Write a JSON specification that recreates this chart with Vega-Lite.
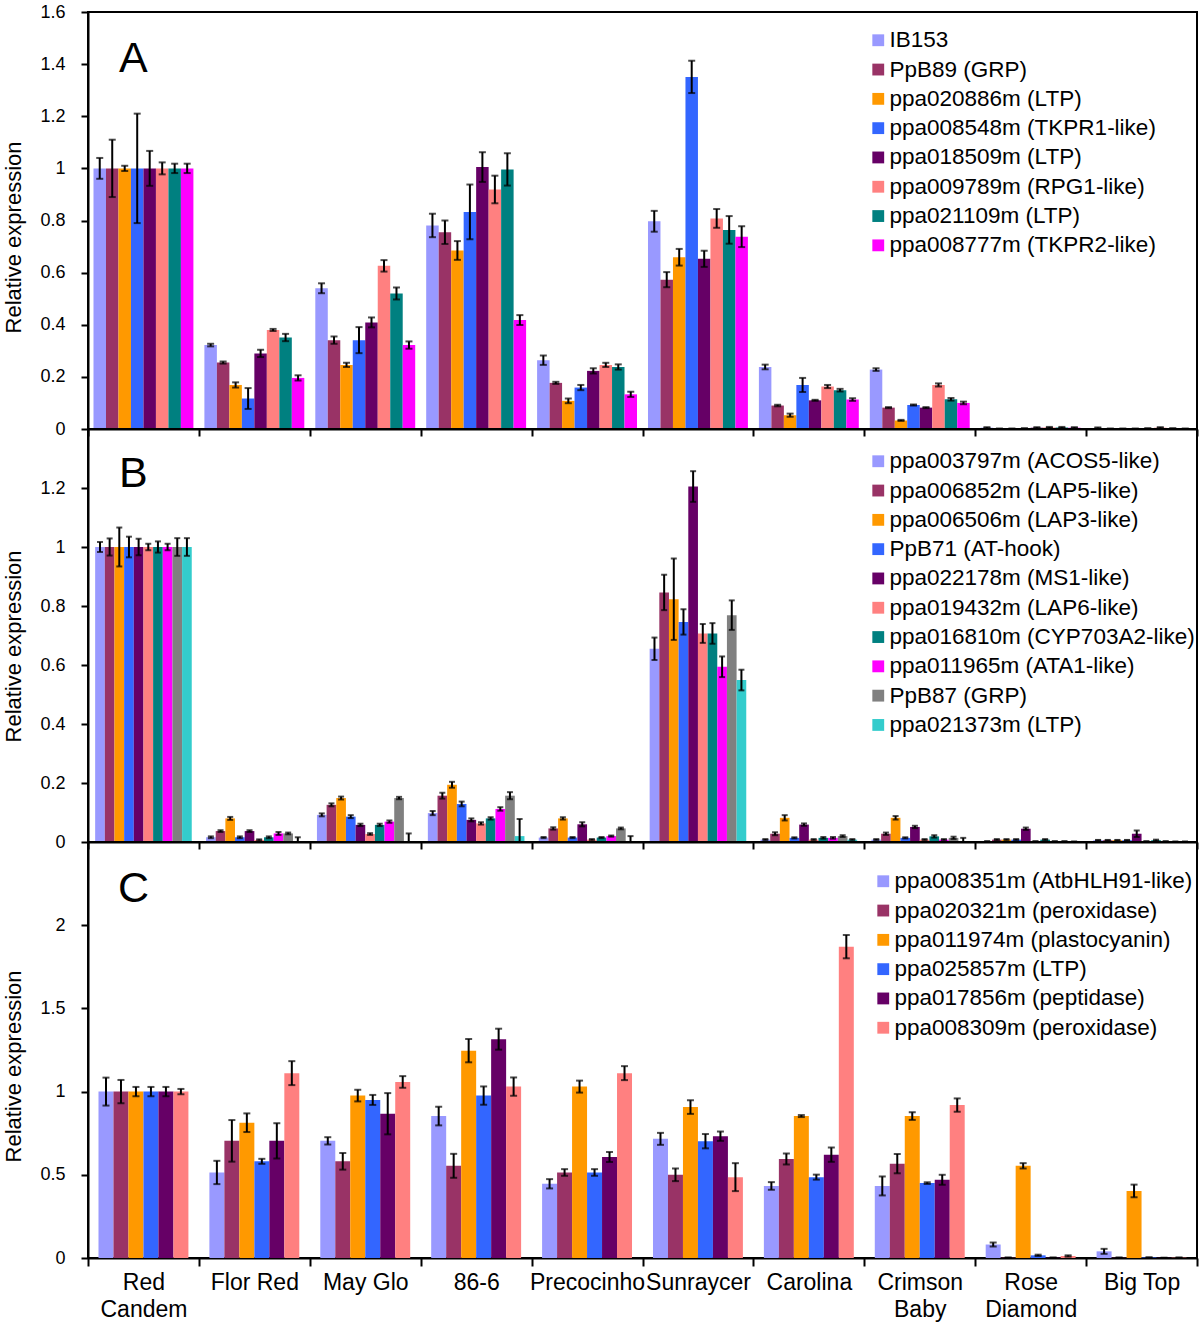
{
"$schema": "https://vega.github.io/schema/vega-lite/v6.json",
"background": "white",
"padding": {"left": 1, "top": 2, "right": 3, "bottom": 0},
"spacing": 0,
"bounds": "flush",
"config": {
  "font": "Liberation Sans",
  "view": {"stroke": "black", "strokeWidth": 2},
  "axis": {"domainColor": "black", "domainWidth": 2, "tickColor": "black", "tickWidth": 2, "labelColor": "black", "titleColor": "black", "grid": false, "labelFont": "Liberation Sans", "titleFont": "Liberation Sans", "titleFontWeight": "normal"},
  "axisY": {"labelFontSize": 18, "tickSize": 7, "labelPadding": 16, "titleFontSize": 22, "titlePadding": 14, "format": "~g"},
  "legend": {"orient": "none", "title": null, "labelFontSize": 22.5, "labelFont": "Liberation Sans", "labelColor": "black", "symbolType": "square", "symbolSize": 140, "symbolStrokeWidth": 0, "rowPadding": 6.3, "labelOffset": 0, "labelLimit": 600, "padding": 0}
},
"resolve": {"scale": {"color": "independent", "y": "independent", "x": "independent", "xOffset": "independent"}},
"datasets": {
"a": [
{"c":"Red Candem","s":"IB153","v":1,"e":0.04},
{"c":"Red Candem","s":"PpB89 (GRP)","v":1,"e":0.11},
{"c":"Red Candem","s":"ppa020886m (LTP)","v":1,"e":0.01},
{"c":"Red Candem","s":"ppa008548m (TKPR1-like)","v":1,"e":0.21},
{"c":"Red Candem","s":"ppa018509m (LTP)","v":1,"e":0.067},
{"c":"Red Candem","s":"ppa009789m (RPG1-like)","v":1,"e":0.023},
{"c":"Red Candem","s":"ppa021109m (LTP)","v":1,"e":0.018},
{"c":"Red Candem","s":"ppa008777m (TKPR2-like)","v":1,"e":0.018},
{"c":"Flor Red","s":"IB153","v":0.322,"e":0.005},
{"c":"Flor Red","s":"PpB89 (GRP)","v":0.255,"e":0.004},
{"c":"Flor Red","s":"ppa020886m (LTP)","v":0.169,"e":0.01},
{"c":"Flor Red","s":"ppa008548m (TKPR1-like)","v":0.117,"e":0.04},
{"c":"Flor Red","s":"ppa018509m (LTP)","v":0.29,"e":0.014},
{"c":"Flor Red","s":"ppa009789m (RPG1-like)","v":0.38,"e":0.004},
{"c":"Flor Red","s":"ppa021109m (LTP)","v":0.351,"e":0.014},
{"c":"Flor Red","s":"ppa008777m (TKPR2-like)","v":0.196,"e":0.01},
{"c":"May Glo","s":"IB153","v":0.54,"e":0.019},
{"c":"May Glo","s":"PpB89 (GRP)","v":0.341,"e":0.014},
{"c":"May Glo","s":"ppa020886m (LTP)","v":0.246,"e":0.008},
{"c":"May Glo","s":"ppa008548m (TKPR1-like)","v":0.341,"e":0.05},
{"c":"May Glo","s":"ppa018509m (LTP)","v":0.409,"e":0.019},
{"c":"May Glo","s":"ppa009789m (RPG1-like)","v":0.626,"e":0.022},
{"c":"May Glo","s":"ppa021109m (LTP)","v":0.52,"e":0.023},
{"c":"May Glo","s":"ppa008777m (TKPR2-like)","v":0.322,"e":0.014},
{"c":"86-6","s":"IB153","v":0.781,"e":0.045},
{"c":"86-6","s":"PpB89 (GRP)","v":0.755,"e":0.045},
{"c":"86-6","s":"ppa020886m (LTP)","v":0.685,"e":0.036},
{"c":"86-6","s":"ppa008548m (TKPR1-like)","v":0.833,"e":0.105},
{"c":"86-6","s":"ppa018509m (LTP)","v":1.005,"e":0.057},
{"c":"86-6","s":"ppa009789m (RPG1-like)","v":0.919,"e":0.053},
{"c":"86-6","s":"ppa021109m (LTP)","v":0.996,"e":0.062},
{"c":"86-6","s":"ppa008777m (TKPR2-like)","v":0.418,"e":0.019},
{"c":"Precocinho","s":"IB153","v":0.264,"e":0.018},
{"c":"Precocinho","s":"PpB89 (GRP)","v":0.177,"e":0.004},
{"c":"Precocinho","s":"ppa020886m (LTP)","v":0.108,"e":0.009},
{"c":"Precocinho","s":"ppa008548m (TKPR1-like)","v":0.159,"e":0.01},
{"c":"Precocinho","s":"ppa018509m (LTP)","v":0.223,"e":0.01},
{"c":"Precocinho","s":"ppa009789m (RPG1-like)","v":0.246,"e":0.008},
{"c":"Precocinho","s":"ppa021109m (LTP)","v":0.238,"e":0.01},
{"c":"Precocinho","s":"ppa008777m (TKPR2-like)","v":0.133,"e":0.01},
{"c":"Sunraycer","s":"IB153","v":0.797,"e":0.04},
{"c":"Sunraycer","s":"PpB89 (GRP)","v":0.573,"e":0.029},
{"c":"Sunraycer","s":"ppa020886m (LTP)","v":0.659,"e":0.032},
{"c":"Sunraycer","s":"ppa008548m (TKPR1-like)","v":1.351,"e":0.062},
{"c":"Sunraycer","s":"ppa018509m (LTP)","v":0.653,"e":0.031},
{"c":"Sunraycer","s":"ppa009789m (RPG1-like)","v":0.808,"e":0.036},
{"c":"Sunraycer","s":"ppa021109m (LTP)","v":0.764,"e":0.053},
{"c":"Sunraycer","s":"ppa008777m (TKPR2-like)","v":0.738,"e":0.04},
{"c":"Carolina","s":"IB153","v":0.238,"e":0.009},
{"c":"Carolina","s":"PpB89 (GRP)","v":0.09,"e":0.003},
{"c":"Carolina","s":"ppa020886m (LTP)","v":0.053,"e":0.006},
{"c":"Carolina","s":"ppa008548m (TKPR1-like)","v":0.169,"e":0.027},
{"c":"Carolina","s":"ppa018509m (LTP)","v":0.11,"e":0.002},
{"c":"Carolina","s":"ppa009789m (RPG1-like)","v":0.163,"e":0.006},
{"c":"Carolina","s":"ppa021109m (LTP)","v":0.149,"e":0.005},
{"c":"Carolina","s":"ppa008777m (TKPR2-like)","v":0.113,"e":0.005},
{"c":"Crimson Baby","s":"IB153","v":0.228,"e":0.005},
{"c":"Crimson Baby","s":"PpB89 (GRP)","v":0.082,"e":0.002},
{"c":"Crimson Baby","s":"ppa020886m (LTP)","v":0.033,"e":0.002},
{"c":"Crimson Baby","s":"ppa008548m (TKPR1-like)","v":0.092,"e":0.002},
{"c":"Crimson Baby","s":"ppa018509m (LTP)","v":0.082,"e":0.002},
{"c":"Crimson Baby","s":"ppa009789m (RPG1-like)","v":0.169,"e":0.006},
{"c":"Crimson Baby","s":"ppa021109m (LTP)","v":0.114,"e":0.005},
{"c":"Crimson Baby","s":"ppa008777m (TKPR2-like)","v":0.1,"e":0.005},
{"c":"Rose Diamond","s":"IB153","v":0.005,"e":0.002},
{"c":"Rose Diamond","s":"PpB89 (GRP)","v":0.001,"e":0.001},
{"c":"Rose Diamond","s":"ppa020886m (LTP)","v":0.001,"e":0.001},
{"c":"Rose Diamond","s":"ppa008548m (TKPR1-like)","v":0.002,"e":0.001},
{"c":"Rose Diamond","s":"ppa018509m (LTP)","v":0.005,"e":0.002},
{"c":"Rose Diamond","s":"ppa009789m (RPG1-like)","v":0.006,"e":0.002},
{"c":"Rose Diamond","s":"ppa021109m (LTP)","v":0.006,"e":0.002},
{"c":"Rose Diamond","s":"ppa008777m (TKPR2-like)","v":0.005,"e":0.002},
{"c":"Big Top","s":"IB153","v":0.004,"e":0.002},
{"c":"Big Top","s":"PpB89 (GRP)","v":0.001,"e":0.001},
{"c":"Big Top","s":"ppa020886m (LTP)","v":0.001,"e":0.001},
{"c":"Big Top","s":"ppa008548m (TKPR1-like)","v":0.001,"e":0.001},
{"c":"Big Top","s":"ppa018509m (LTP)","v":0.002,"e":0.001},
{"c":"Big Top","s":"ppa009789m (RPG1-like)","v":0.005,"e":0.002},
{"c":"Big Top","s":"ppa021109m (LTP)","v":0.002,"e":0.001},
{"c":"Big Top","s":"ppa008777m (TKPR2-like)","v":0.001,"e":0.001}
],
"b": [
{"c":"Red Candem","s":"ppa003797m (ACOS5-like)","v":1,"e":0.017},
{"c":"Red Candem","s":"ppa006852m (LAP5-like)","v":1,"e":0.029},
{"c":"Red Candem","s":"ppa006506m (LAP3-like)","v":1,"e":0.066},
{"c":"Red Candem","s":"PpB71 (AT-hook)","v":1,"e":0.035},
{"c":"Red Candem","s":"ppa022178m (MS1-like)","v":1,"e":0.028},
{"c":"Red Candem","s":"ppa019432m (LAP6-like)","v":1,"e":0.011},
{"c":"Red Candem","s":"ppa016810m (CYP703A2-like)","v":1,"e":0.019},
{"c":"Red Candem","s":"ppa011965m (ATA1-like)","v":1,"e":0.011},
{"c":"Red Candem","s":"PpB87 (GRP)","v":1,"e":0.03},
{"c":"Red Candem","s":"ppa021373m (LTP)","v":1,"e":0.03},
{"c":"Flor Red","s":"ppa003797m (ACOS5-like)","v":0.016,"e":0.003},
{"c":"Flor Red","s":"ppa006852m (LAP5-like)","v":0.037,"e":0.003},
{"c":"Flor Red","s":"ppa006506m (LAP3-like)","v":0.08,"e":0.005},
{"c":"Flor Red","s":"PpB71 (AT-hook)","v":0.016,"e":0.003},
{"c":"Flor Red","s":"ppa022178m (MS1-like)","v":0.037,"e":0.003},
{"c":"Flor Red","s":"ppa019432m (LAP6-like)","v":0.007,"e":0.002},
{"c":"Flor Red","s":"ppa016810m (CYP703A2-like)","v":0.016,"e":0.003},
{"c":"Flor Red","s":"ppa011965m (ATA1-like)","v":0.029,"e":0.005},
{"c":"Flor Red","s":"PpB87 (GRP)","v":0.029,"e":0.003},
{"c":"Flor Red","s":"ppa021373m (LTP)","v":0.003,"e":0.013},
{"c":"May Glo","s":"ppa003797m (ACOS5-like)","v":0.092,"e":0.005},
{"c":"May Glo","s":"ppa006852m (LAP5-like)","v":0.126,"e":0.005},
{"c":"May Glo","s":"ppa006506m (LAP3-like)","v":0.149,"e":0.005},
{"c":"May Glo","s":"PpB71 (AT-hook)","v":0.086,"e":0.005},
{"c":"May Glo","s":"ppa022178m (MS1-like)","v":0.058,"e":0.004},
{"c":"May Glo","s":"ppa019432m (LAP6-like)","v":0.027,"e":0.003},
{"c":"May Glo","s":"ppa016810m (CYP703A2-like)","v":0.058,"e":0.004},
{"c":"May Glo","s":"ppa011965m (ATA1-like)","v":0.069,"e":0.004},
{"c":"May Glo","s":"PpB87 (GRP)","v":0.149,"e":0.004},
{"c":"May Glo","s":"ppa021373m (LTP)","v":0.003,"e":0.026},
{"c":"86-6","s":"ppa003797m (ACOS5-like)","v":0.098,"e":0.007},
{"c":"86-6","s":"ppa006852m (LAP5-like)","v":0.157,"e":0.01},
{"c":"86-6","s":"ppa006506m (LAP3-like)","v":0.194,"e":0.01},
{"c":"86-6","s":"PpB71 (AT-hook)","v":0.129,"e":0.008},
{"c":"86-6","s":"ppa022178m (MS1-like)","v":0.075,"e":0.005},
{"c":"86-6","s":"ppa019432m (LAP6-like)","v":0.063,"e":0.004},
{"c":"86-6","s":"ppa016810m (CYP703A2-like)","v":0.08,"e":0.004},
{"c":"86-6","s":"ppa011965m (ATA1-like)","v":0.112,"e":0.006},
{"c":"86-6","s":"PpB87 (GRP)","v":0.157,"e":0.012},
{"c":"86-6","s":"ppa021373m (LTP)","v":0.02,"e":0.058},
{"c":"Precocinho","s":"ppa003797m (ACOS5-like)","v":0.015,"e":0.002},
{"c":"Precocinho","s":"ppa006852m (LAP5-like)","v":0.046,"e":0.004},
{"c":"Precocinho","s":"ppa006506m (LAP3-like)","v":0.08,"e":0.004},
{"c":"Precocinho","s":"PpB71 (AT-hook)","v":0.015,"e":0.002},
{"c":"Precocinho","s":"ppa022178m (MS1-like)","v":0.06,"e":0.007},
{"c":"Precocinho","s":"ppa019432m (LAP6-like)","v":0.008,"e":0.002},
{"c":"Precocinho","s":"ppa016810m (CYP703A2-like)","v":0.015,"e":0.002},
{"c":"Precocinho","s":"ppa011965m (ATA1-like)","v":0.02,"e":0.002},
{"c":"Precocinho","s":"PpB87 (GRP)","v":0.046,"e":0.003},
{"c":"Precocinho","s":"ppa021373m (LTP)","v":0.003,"e":0.017},
{"c":"Sunraycer","s":"ppa003797m (ACOS5-like)","v":0.655,"e":0.038},
{"c":"Sunraycer","s":"ppa006852m (LAP5-like)","v":0.846,"e":0.06},
{"c":"Sunraycer","s":"ppa006506m (LAP3-like)","v":0.823,"e":0.138},
{"c":"Sunraycer","s":"PpB71 (AT-hook)","v":0.746,"e":0.043},
{"c":"Sunraycer","s":"ppa022178m (MS1-like)","v":1.205,"e":0.052},
{"c":"Sunraycer","s":"ppa019432m (LAP6-like)","v":0.707,"e":0.032},
{"c":"Sunraycer","s":"ppa016810m (CYP703A2-like)","v":0.707,"e":0.035},
{"c":"Sunraycer","s":"ppa011965m (ATA1-like)","v":0.594,"e":0.035},
{"c":"Sunraycer","s":"PpB87 (GRP)","v":0.769,"e":0.05},
{"c":"Sunraycer","s":"ppa021373m (LTP)","v":0.549,"e":0.035},
{"c":"Carolina","s":"ppa003797m (ACOS5-like)","v":0.008,"e":0.002},
{"c":"Carolina","s":"ppa006852m (LAP5-like)","v":0.028,"e":0.005},
{"c":"Carolina","s":"ppa006506m (LAP3-like)","v":0.082,"e":0.009},
{"c":"Carolina","s":"PpB71 (AT-hook)","v":0.014,"e":0.002},
{"c":"Carolina","s":"ppa022178m (MS1-like)","v":0.059,"e":0.004},
{"c":"Carolina","s":"ppa019432m (LAP6-like)","v":0.008,"e":0.002},
{"c":"Carolina","s":"ppa016810m (CYP703A2-like)","v":0.014,"e":0.003},
{"c":"Carolina","s":"ppa011965m (ATA1-like)","v":0.014,"e":0.003},
{"c":"Carolina","s":"PpB87 (GRP)","v":0.02,"e":0.003},
{"c":"Carolina","s":"ppa021373m (LTP)","v":0.008,"e":0.002},
{"c":"Crimson Baby","s":"ppa003797m (ACOS5-like)","v":0.008,"e":0.002},
{"c":"Crimson Baby","s":"ppa006852m (LAP5-like)","v":0.028,"e":0.004},
{"c":"Crimson Baby","s":"ppa006506m (LAP3-like)","v":0.082,"e":0.006},
{"c":"Crimson Baby","s":"PpB71 (AT-hook)","v":0.014,"e":0.002},
{"c":"Crimson Baby","s":"ppa022178m (MS1-like)","v":0.051,"e":0.004},
{"c":"Crimson Baby","s":"ppa019432m (LAP6-like)","v":0.008,"e":0.002},
{"c":"Crimson Baby","s":"ppa016810m (CYP703A2-like)","v":0.019,"e":0.004},
{"c":"Crimson Baby","s":"ppa011965m (ATA1-like)","v":0.008,"e":0.002},
{"c":"Crimson Baby","s":"PpB87 (GRP)","v":0.014,"e":0.004},
{"c":"Crimson Baby","s":"ppa021373m (LTP)","v":0.002,"e":0.012},
{"c":"Rose Diamond","s":"ppa003797m (ACOS5-like)","v":0.002,"e":0.001},
{"c":"Rose Diamond","s":"ppa006852m (LAP5-like)","v":0.008,"e":0.002},
{"c":"Rose Diamond","s":"ppa006506m (LAP3-like)","v":0.008,"e":0.002},
{"c":"Rose Diamond","s":"PpB71 (AT-hook)","v":0.008,"e":0.002},
{"c":"Rose Diamond","s":"ppa022178m (MS1-like)","v":0.045,"e":0.004},
{"c":"Rose Diamond","s":"ppa019432m (LAP6-like)","v":0.002,"e":0.001},
{"c":"Rose Diamond","s":"ppa016810m (CYP703A2-like)","v":0.008,"e":0.002},
{"c":"Rose Diamond","s":"ppa011965m (ATA1-like)","v":0.002,"e":0.001},
{"c":"Rose Diamond","s":"PpB87 (GRP)","v":0.002,"e":0.001},
{"c":"Rose Diamond","s":"ppa021373m (LTP)","v":0.001,"e":0.001},
{"c":"Big Top","s":"ppa003797m (ACOS5-like)","v":0.006,"e":0.001},
{"c":"Big Top","s":"ppa006852m (LAP5-like)","v":0.006,"e":0.001},
{"c":"Big Top","s":"ppa006506m (LAP3-like)","v":0.006,"e":0.001},
{"c":"Big Top","s":"PpB71 (AT-hook)","v":0.006,"e":0.001},
{"c":"Big Top","s":"ppa022178m (MS1-like)","v":0.028,"e":0.011},
{"c":"Big Top","s":"ppa019432m (LAP6-like)","v":0.002,"e":0.001},
{"c":"Big Top","s":"ppa016810m (CYP703A2-like)","v":0.006,"e":0.002},
{"c":"Big Top","s":"ppa011965m (ATA1-like)","v":0.002,"e":0.001},
{"c":"Big Top","s":"PpB87 (GRP)","v":0.001,"e":0.001},
{"c":"Big Top","s":"ppa021373m (LTP)","v":0.001,"e":0.001}
],
"c": [
{"c":"Red Candem","s":"ppa008351m (AtbHLH91-like)","v":1,"e":0.084},
{"c":"Red Candem","s":"ppa020321m (peroxidase)","v":1,"e":0.07},
{"c":"Red Candem","s":"ppa011974m (plastocyanin)","v":1,"e":0.028},
{"c":"Red Candem","s":"ppa025857m (LTP)","v":1,"e":0.028},
{"c":"Red Candem","s":"ppa017856m (peptidase)","v":1,"e":0.028},
{"c":"Red Candem","s":"ppa008309m (peroxidase)","v":1,"e":0.016},
{"c":"Flor Red","s":"ppa008351m (AtbHLH91-like)","v":0.514,"e":0.07},
{"c":"Flor Red","s":"ppa020321m (peroxidase)","v":0.704,"e":0.125},
{"c":"Flor Red","s":"ppa011974m (plastocyanin)","v":0.813,"e":0.056},
{"c":"Flor Red","s":"ppa025857m (LTP)","v":0.581,"e":0.015},
{"c":"Flor Red","s":"ppa017856m (peptidase)","v":0.704,"e":0.106},
{"c":"Flor Red","s":"ppa008309m (peroxidase)","v":1.111,"e":0.072},
{"c":"May Glo","s":"ppa008351m (AtbHLH91-like)","v":0.704,"e":0.022},
{"c":"May Glo","s":"ppa020321m (peroxidase)","v":0.581,"e":0.05},
{"c":"May Glo","s":"ppa011974m (plastocyanin)","v":0.976,"e":0.035},
{"c":"May Glo","s":"ppa025857m (LTP)","v":0.95,"e":0.03},
{"c":"May Glo","s":"ppa017856m (peptidase)","v":0.867,"e":0.124},
{"c":"May Glo","s":"ppa008309m (peroxidase)","v":1.058,"e":0.035},
{"c":"86-6","s":"ppa008351m (AtbHLH91-like)","v":0.853,"e":0.056},
{"c":"86-6","s":"ppa020321m (peroxidase)","v":0.554,"e":0.072},
{"c":"86-6","s":"ppa011974m (plastocyanin)","v":1.246,"e":0.07},
{"c":"86-6","s":"ppa025857m (LTP)","v":0.976,"e":0.055},
{"c":"86-6","s":"ppa017856m (peptidase)","v":1.315,"e":0.063},
{"c":"86-6","s":"ppa008309m (peroxidase)","v":1.03,"e":0.055},
{"c":"Precocinho","s":"ppa008351m (AtbHLH91-like)","v":0.446,"e":0.028},
{"c":"Precocinho","s":"ppa020321m (peroxidase)","v":0.514,"e":0.02},
{"c":"Precocinho","s":"ppa011974m (plastocyanin)","v":1.03,"e":0.036},
{"c":"Precocinho","s":"ppa025857m (LTP)","v":0.514,"e":0.02},
{"c":"Precocinho","s":"ppa017856m (peptidase)","v":0.607,"e":0.03},
{"c":"Precocinho","s":"ppa008309m (peroxidase)","v":1.111,"e":0.042},
{"c":"Sunraycer","s":"ppa008351m (AtbHLH91-like)","v":0.716,"e":0.036},
{"c":"Sunraycer","s":"ppa020321m (peroxidase)","v":0.5,"e":0.038},
{"c":"Sunraycer","s":"ppa011974m (plastocyanin)","v":0.907,"e":0.041},
{"c":"Sunraycer","s":"ppa025857m (LTP)","v":0.702,"e":0.043},
{"c":"Sunraycer","s":"ppa017856m (peptidase)","v":0.732,"e":0.028},
{"c":"Sunraycer","s":"ppa008309m (peroxidase)","v":0.486,"e":0.084},
{"c":"Carolina","s":"ppa008351m (AtbHLH91-like)","v":0.433,"e":0.023},
{"c":"Carolina","s":"ppa020321m (peroxidase)","v":0.595,"e":0.033},
{"c":"Carolina","s":"ppa011974m (plastocyanin)","v":0.853,"e":0.006},
{"c":"Carolina","s":"ppa025857m (LTP)","v":0.486,"e":0.015},
{"c":"Carolina","s":"ppa017856m (peptidase)","v":0.621,"e":0.043},
{"c":"Carolina","s":"ppa008309m (peroxidase)","v":1.871,"e":0.07},
{"c":"Crimson Baby","s":"ppa008351m (AtbHLH91-like)","v":0.433,"e":0.057},
{"c":"Crimson Baby","s":"ppa020321m (peroxidase)","v":0.567,"e":0.058},
{"c":"Crimson Baby","s":"ppa011974m (plastocyanin)","v":0.853,"e":0.023},
{"c":"Crimson Baby","s":"ppa025857m (LTP)","v":0.45,"e":0.005},
{"c":"Crimson Baby","s":"ppa017856m (peptidase)","v":0.47,"e":0.03},
{"c":"Crimson Baby","s":"ppa008309m (peroxidase)","v":0.919,"e":0.04},
{"c":"Rose Diamond","s":"ppa008351m (AtbHLH91-like)","v":0.081,"e":0.012},
{"c":"Rose Diamond","s":"ppa020321m (peroxidase)","v":0.002,"e":0.001},
{"c":"Rose Diamond","s":"ppa011974m (plastocyanin)","v":0.554,"e":0.016},
{"c":"Rose Diamond","s":"ppa025857m (LTP)","v":0.016,"e":0.004},
{"c":"Rose Diamond","s":"ppa017856m (peptidase)","v":0.002,"e":0.001},
{"c":"Rose Diamond","s":"ppa008309m (peroxidase)","v":0.012,"e":0.004},
{"c":"Big Top","s":"ppa008351m (AtbHLH91-like)","v":0.04,"e":0.015},
{"c":"Big Top","s":"ppa020321m (peroxidase)","v":0.002,"e":0.001},
{"c":"Big Top","s":"ppa011974m (plastocyanin)","v":0.403,"e":0.038},
{"c":"Big Top","s":"ppa025857m (LTP)","v":0.003,"e":0.001},
{"c":"Big Top","s":"ppa017856m (peptidase)","v":0.001,"e":0.001},
{"c":"Big Top","s":"ppa008309m (peroxidase)","v":0.002,"e":0.001}
]
},
"vconcat": [
{
  "width": 1109, "height": 417,
  "layer": [
    {
      "data": {"name": "a"},
      "encoding": {
        "x": {"field": "c", "type": "nominal", "scale": {"domain": ["Red Candem","Flor Red","May Glo","86-6","Precocinho","Sunraycer","Carolina","Crimson Baby","Rose Diamond","Big Top"], "paddingInner": 0, "paddingOuter": 0}, "axis": {"labels": false, "title": null, "tickSize": 7, "tickBand": "extent"}},
        "xOffset": {"field": "s", "type": "nominal", "scale": {"domain": ["IB153","PpB89 (GRP)","ppa020886m (LTP)","ppa008548m (TKPR1-like)","ppa018509m (LTP)","ppa009789m (RPG1-like)","ppa021109m (LTP)","ppa008777m (TKPR2-like)"], "paddingInner": 0, "paddingOuter": 0.44}},
        "y": {"field": "v", "type": "quantitative", "scale": {"domain": [0, 1.6], "nice": false}, "axis": {"title": "Relative expression", "values": [0,0.2,0.4,0.6,0.8,1,1.2,1.4,1.6], "titleY": 225}}
      },
      "layer": [
        {"mark": {"type": "bar"}, "encoding": {"color": {"field": "s", "type": "nominal", "scale": {"domain": ["IB153","PpB89 (GRP)","ppa020886m (LTP)","ppa008548m (TKPR1-like)","ppa018509m (LTP)","ppa009789m (RPG1-like)","ppa021109m (LTP)","ppa008777m (TKPR2-like)"], "range": ["#9999FF","#993366","#FF9900","#3366FF","#660066","#FF8080","#008080","#FF00FF"]}, "legend": {"legendX": 779, "legendY": 17}}}},
        {"mark": {"type": "errorbar", "color": "black", "thickness": 2, "ticks": {"size": 7}}, "encoding": {"yError": {"field": "e"}}}
      ]
    },
    {
      "data": {"values": [{"t": "A"}]},
      "mark": {"type": "text", "fontSize": 43, "baseline": "alphabetic", "align": "center", "dx": -10, "color": "black"},
      "encoding": {"x": {"datum": "Red Candem", "type": "nominal"}, "y": {"datum": 1.37, "type": "quantitative"}, "text": {"field": "t"}}
    }
  ]
},
{
  "width": 1109, "height": 413,
  "layer": [
    {
      "data": {"name": "b"},
      "encoding": {
        "x": {"field": "c", "type": "nominal", "scale": {"domain": ["Red Candem","Flor Red","May Glo","86-6","Precocinho","Sunraycer","Carolina","Crimson Baby","Rose Diamond","Big Top"], "paddingInner": 0, "paddingOuter": 0}, "axis": {"labels": false, "title": null, "tickSize": 7, "tickBand": "extent"}},
        "xOffset": {"field": "s", "type": "nominal", "scale": {"domain": ["ppa003797m (ACOS5-like)","ppa006852m (LAP5-like)","ppa006506m (LAP3-like)","PpB71 (AT-hook)","ppa022178m (MS1-like)","ppa019432m (LAP6-like)","ppa016810m (CYP703A2-like)","ppa011965m (ATA1-like)","PpB87 (GRP)","ppa021373m (LTP)"], "paddingInner": 0, "paddingOuter": 0.74}},
        "y": {"field": "v", "type": "quantitative", "scale": {"domain": [0, 1.4], "nice": false, "clamp": true}, "axis": {"title": "Relative expression", "values": [0,0.2,0.4,0.6,0.8,1,1.2], "titleY": 217}}
      },
      "layer": [
        {"mark": {"type": "bar"}, "encoding": {"color": {"field": "s", "type": "nominal", "scale": {"domain": ["ppa003797m (ACOS5-like)","ppa006852m (LAP5-like)","ppa006506m (LAP3-like)","PpB71 (AT-hook)","ppa022178m (MS1-like)","ppa019432m (LAP6-like)","ppa016810m (CYP703A2-like)","ppa011965m (ATA1-like)","PpB87 (GRP)","ppa021373m (LTP)"], "range": ["#9999FF","#993366","#FF9900","#3366FF","#660066","#FF8080","#008080","#FF00FF","#808080","#33CCCC"]}, "legend": {"legendX": 779, "legendY": 21}}}},
        {"mark": {"type": "errorbar", "color": "black", "thickness": 2, "ticks": {"size": 6}}, "encoding": {"yError": {"field": "e"}}}
      ]
    },
    {
      "data": {"values": [{"t": "B"}]},
      "mark": {"type": "text", "fontSize": 43, "baseline": "alphabetic", "align": "center", "dx": -10, "color": "black"},
      "encoding": {"x": {"datum": "Red Candem", "type": "nominal"}, "y": {"datum": 1.203, "type": "quantitative"}, "text": {"field": "t"}}
    }
  ]
},
{
  "width": 1109, "height": 416,
  "layer": [
    {
      "data": {"name": "c"},
      "encoding": {
        "x": {"field": "c", "type": "nominal", "scale": {"domain": ["Red Candem","Flor Red","May Glo","86-6","Precocinho","Sunraycer","Carolina","Crimson Baby","Rose Diamond","Big Top"], "paddingInner": 0, "paddingOuter": 0}, "axis": {"title": null, "tickSize": 8, "tickBand": "extent", "labelAngle": 0, "labelFontSize": 23, "labelPadding": 5, "labelBaseline": "top", "labelLineHeight": 27.5, "labelExpr": "datum.label == 'Red Candem' ? ['Red', 'Candem'] : datum.label == 'Crimson Baby' ? ['Crimson', 'Baby'] : datum.label == 'Rose Diamond' ? ['Rose', 'Diamond'] : datum.label"}},
        "xOffset": {"field": "s", "type": "nominal", "scale": {"domain": ["ppa008351m (AtbHLH91-like)","ppa020321m (peroxidase)","ppa011974m (plastocyanin)","ppa025857m (LTP)","ppa017856m (peptidase)","ppa008309m (peroxidase)"], "paddingInner": 0, "paddingOuter": 0.7}},
        "y": {"field": "v", "type": "quantitative", "scale": {"domain": [0, 2.5], "nice": false}, "axis": {"title": "Relative expression", "values": [0,0.5,1,1.5,2], "titleY": 224}}
      },
      "layer": [
        {"mark": {"type": "bar"}, "encoding": {"color": {"field": "s", "type": "nominal", "scale": {"domain": ["ppa008351m (AtbHLH91-like)","ppa020321m (peroxidase)","ppa011974m (plastocyanin)","ppa025857m (LTP)","ppa017856m (peptidase)","ppa008309m (peroxidase)"], "range": ["#9999FF","#993366","#FF9900","#3366FF","#660066","#FF8080"]}, "legend": {"legendX": 784, "legendY": 28}}}},
        {"mark": {"type": "errorbar", "color": "black", "thickness": 2, "ticks": {"size": 7}}, "encoding": {"yError": {"field": "e"}}}
      ]
    },
    {
      "data": {"values": [{"t": "C"}]},
      "mark": {"type": "text", "fontSize": 43, "baseline": "alphabetic", "align": "center", "dx": -10, "color": "black"},
      "encoding": {"x": {"datum": "Red Candem", "type": "nominal"}, "y": {"datum": 2.14, "type": "quantitative"}, "text": {"field": "t"}}
    }
  ]
}
]
}
